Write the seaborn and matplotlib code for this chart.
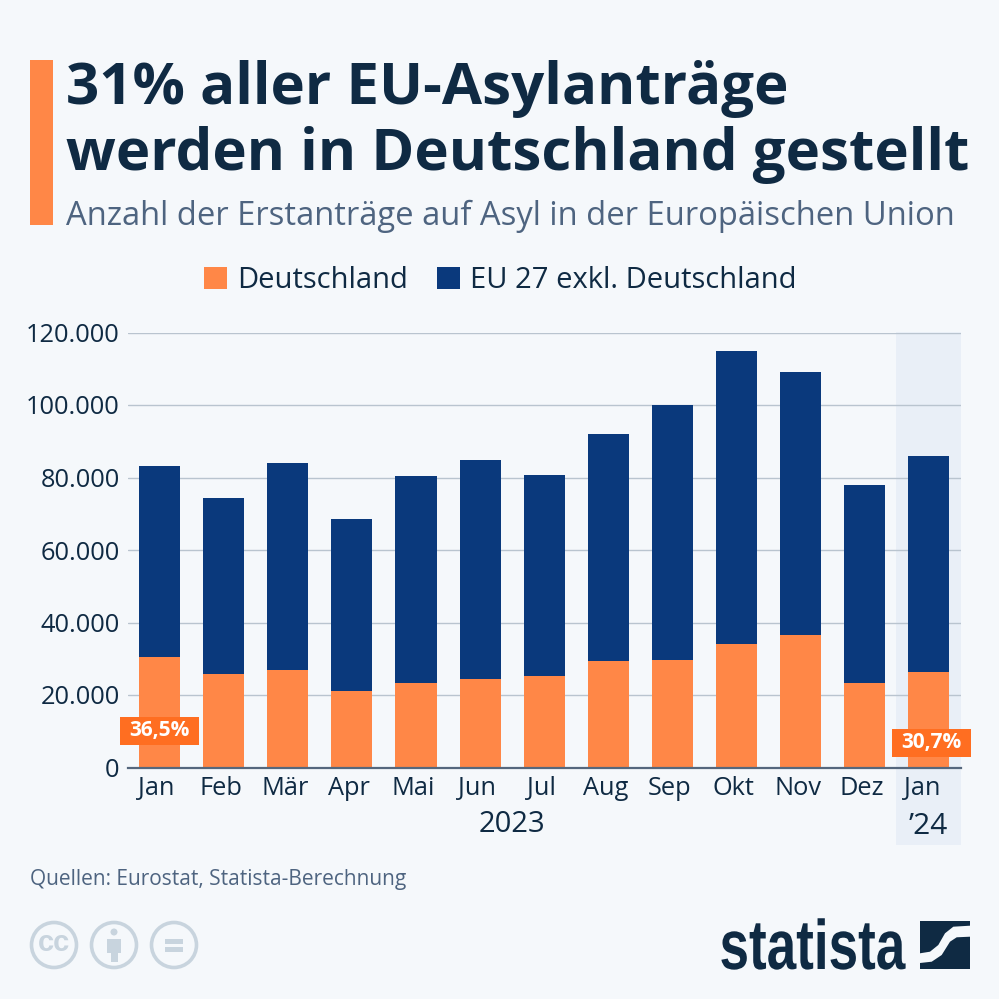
import numpy as np
import pandas as pd
import matplotlib
matplotlib.use('Agg')
import matplotlib.pyplot as plt
from matplotlib.patches import Rectangle, Circle, Polygon
from matplotlib.patheffects import AbstractPathEffect
from matplotlib.transforms import Affine2D, ScaledTranslation
import seaborn as sns

#数据
months = ['Jan', 'Feb', 'Mär', 'Apr', 'Mai', 'Jun', 'Jul', 'Aug', 'Sep', 'Okt', 'Nov', 'Dez', 'Jan ']
deutschland = [30500, 25700, 26800, 21000, 23400, 24500, 25200, 29500, 29700, 34000, 36500, 23200, 26400]
eu_rest = [52800, 48600, 57200, 47500, 57100, 60300, 55600, 62500, 70300, 81000, 72500, 54600, 59600]
y_ticks = [0, 20000, 40000, 60000, 80000, 100000, 120000]
y_labels = ['0', '20.000', '40.000', '60.000', '80.000', '100.000', '120.000']
badge_text = ['36,5%', '30,7%']

BG = '#f5f8fb'
ORANGE = '#ff8747'
BADGE = '#ff6e21'
BLUE = '#0a397c'
DARK = '#0f2a43'
SLATE = '#4e6480'


# 竖向拉伸文字（logo用）
class Strecken(AbstractPathEffect):
    def __init__(self, k):
        super().__init__()
        self.k = k

    def draw_path(self, renderer, gc, tpath, affine, rgbFace=None):
        renderer.draw_path(gc, tpath, Affine2D().scale(1, self.k) + affine, rgbFace)


sns.set_theme(style='white')
plt.rcParams['font.family'] = ['Open Sans', 'DejaVu Sans']

data = pd.DataFrame({'monat': months, 'de': deutschland, 'eu': eu_rest})
data['gesamt'] = data['de'] + data['eu']

fig = plt.figure(figsize=(9.99, 9.99), dpi=100, facecolor=BG)

# 背景层，用像素坐标
bg = fig.add_axes([0, 0, 1, 1])
bg.set_xlim(0, 999)
bg.set_ylim(999, 0)
bg.axis('off')
bg.add_patch(Rectangle((30, 60), 23, 165, color=ORANGE, lw=0))
bg.add_patch(Rectangle((896, 332), 65, 513, color='#e9eff7', lw=0))

bg.text(66, 89, '31% aller EU-Asylanträge', fontsize=41.95, fontweight='bold', color=DARK, va='center')
bg.text(66, 155, 'werden in Deutschland gestellt', fontsize=41.95, fontweight='bold', color=DARK, va='center')
bg.text(66, 216, 'Anzahl der Erstanträge auf Asyl in der Europäischen Union', fontsize=23.55, color=SLATE, va='center')
bg.text(512, 825, '2023', fontsize=21, color=DARK, ha='center', va='center')
bg.text(928, 826, '’24', fontsize=21.5, color=DARK, ha='center', va='center')
bg.text(30, 879, 'Quellen: Eurostat, Statista-Berechnung', fontsize=15, color=SLATE, va='center')

# 图表
ax = fig.add_axes([128 / 999, (999 - 767.5) / 999, 833 / 999, 435 / 999])
ax.set_facecolor('none')
sns.barplot(data=data, x='monat', y='gesamt', color=BLUE, saturation=1, width=0.64, ax=ax,
            label='EU 27 exkl. Deutschland', zorder=3, linewidth=0)
sns.barplot(data=data, x='monat', y='de', color=ORANGE, saturation=1, width=0.64, ax=ax,
            label='Deutschland', zorder=3, linewidth=0)
ax.set_xlim(-0.492, 12.5)
ax.set_ylim(0, 120000)
ax.set_xlabel('')
ax.set_ylabel('')
ax.set_yticks(y_ticks)
ax.set_yticklabels(y_labels)
ax.tick_params(axis='y', labelsize=18.3, labelcolor=DARK, length=0, pad=6)
ax.tick_params(axis='x', labelsize=18.3, labelcolor=DARK, length=0, pad=6)
for t in ax.get_xticklabels():
    t.set_transform(t.get_transform() + ScaledTranslation(-3 / 100, 0, fig.dpi_scale_trans))
ax.yaxis.grid(True, color='#b9c4cf', lw=1)
ax.set_axisbelow(True)
sns.despine(ax=ax, left=True, top=True, right=True)
ax.spines['bottom'].set_color('#55677d')
ax.spines['bottom'].set_linewidth(1.6)
ax.spines['bottom'].set_zorder(5)

# 百分比标签
for x, y, txt in zip([0, 12.04], [10070, 6760], badge_text):
    ax.add_patch(Rectangle((x - 0.617, y - 3862), 1.234, 7724, fc=BADGE, ec='none', zorder=6, clip_on=False))
    ax.text(x, y, txt, fontsize=15, fontweight='bold', color='white', ha='center', va='center', zorder=7)

# 图例
h, l = ax.get_legend_handles_labels()
ax.get_legend().remove()
fig.legend(h[::-1], l[::-1], loc='center', bbox_to_anchor=(500 / 999, 1 - 281 / 999), ncol=2, frameon=False,
           fontsize=21, labelcolor=DARK, handlelength=0.78, handleheight=0.78, handletextpad=0.35, columnspacing=1.0)

# 页脚图标
top = fig.add_axes([0, 0, 1, 1], zorder=10)
top.set_xlim(0, 999)
top.set_ylim(999, 0)
top.axis('off')
GREY = '#c8d4de'
for cx in [54, 114, 174]:
    top.add_patch(Circle((cx, 945), 22.5, fill=False, ec=GREY, lw=2.6))
top.text(54, 943, 'cc', fontsize=21, fontweight='bold', color=GREY, ha='center', va='center',
         family=['Liberation Sans', 'DejaVu Sans'])
top.add_patch(Circle((114, 932), 3.5, color=GREY, lw=0))
top.add_patch(Rectangle((107, 939), 14, 14, color=GREY, lw=0))
top.add_patch(Rectangle((110.5, 953), 7, 9, color=GREY, lw=0))
top.add_patch(Rectangle((165, 939), 18, 5, color=GREY, lw=0))
top.add_patch(Rectangle((165, 947), 18, 5, color=GREY, lw=0))

logo = top.text(719.5, 969, 'statista', fontsize=38.2, fontweight='bold', color=DARK, va='baseline',
                family=['Liberation Sans', 'DejaVu Sans'])
logo.set_path_effects([Strecken(1.32)])
top.add_patch(Rectangle((920, 920.5), 50, 48.5, color=DARK, lw=0))
top.add_patch(Polygon([(920, 953.3), (930, 951.7), (938.3, 945), (945, 933.3), (953.3, 926.7), (970, 925.7),
                       (970, 936.7), (956.7, 937.3), (950, 941.7), (941.7, 955), (931.7, 961.7), (920, 963)],
                      color=BG, lw=0))

fig.savefig('out.png', dpi=100, facecolor=BG)
